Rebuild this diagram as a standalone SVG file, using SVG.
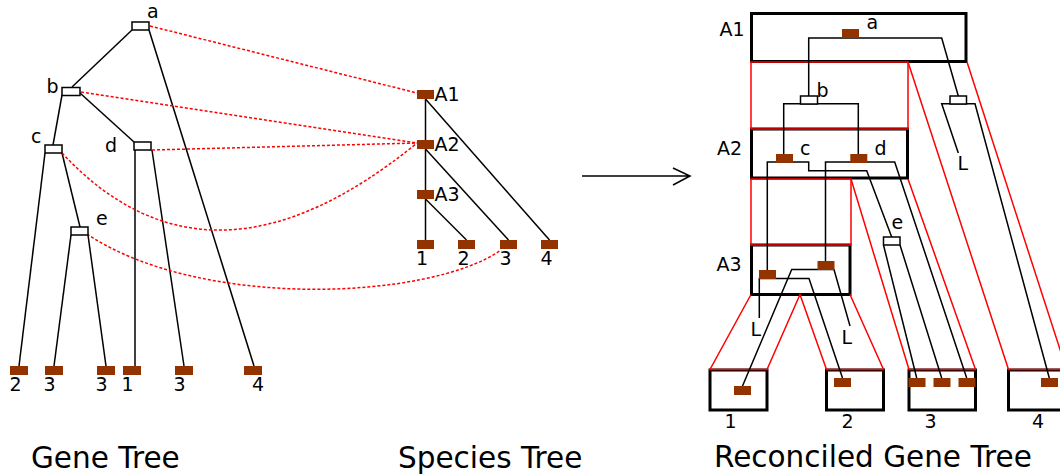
<svg xmlns="http://www.w3.org/2000/svg" width="1060" height="476" viewBox="0 0 1060 476">
  <style>
    .t { font-family: "DejaVu Sans", "Liberation Sans", sans-serif; font-size: 19px; fill: #000; }
    .title { font-size: 29.5px; }
    .ln { stroke: #000; stroke-width: 1.5; fill: none; }
    .map { stroke: #f00; stroke-width: 1.5; stroke-dasharray: 3 2; fill: none; }
    .dup { fill: #fff; stroke: #000; stroke-width: 1.5; }
    .sp { fill: #933300; }
    .box { fill: none; stroke: #000; stroke-width: 3; }
    .tube { fill: none; stroke: #f00; stroke-width: 1.5; }
  </style>

  <rect width="1060" height="476" fill="#fff"/>

  <!-- ===== Gene tree ===== -->
  <g id="gene-edges">
    <path class="ln" d="M132,30 L72,87"/>
    <path class="ln" d="M149,30 L254,366"/>
    <path class="ln" d="M62,95 L53,145"/>
    <path class="ln" d="M80,93 L134,142"/>
    <path class="ln" d="M45,153 L19,366"/>
    <path class="ln" d="M62,153 L80,227"/>
    <path class="ln" d="M71,235 L54,366"/>
    <path class="ln" d="M88,235 L106,366"/>
    <path class="ln" d="M135,150 L135,366"/>
    <path class="ln" d="M152,150 L184,366"/>
  </g>

  <!-- mapping from gene nodes onto species nodes -->
  <g id="mappings">
    <path class="map" d="M150,26 L417,93"/>
    <path class="map" d="M81,92 L417,143"/>
    <path class="map" d="M152,150 L417,143"/>
    <path class="map" d="M62,153 Q210,312 417,143"/>
    <path class="map" d="M87,234 C200,310 430,300 501,250"/>
  </g>

  <g id="gene-a"><rect class="dup" x="132" y="22" width="17" height="8"/><text class="t" x="147" y="18">a</text></g>
  <g id="gene-b"><rect class="dup" x="62" y="87.5" width="18" height="8"/><text class="t" x="46.5" y="93">b</text></g>
  <g id="gene-c"><rect class="dup" x="45" y="145" width="17" height="8"/><text class="t" x="31" y="143">c</text></g>
  <g id="gene-d"><rect class="dup" x="134" y="142" width="17" height="8"/><text class="t" x="105" y="152">d</text></g>
  <g id="gene-e"><rect class="dup" x="71" y="227" width="17" height="8"/><text class="t" x="96" y="225">e</text></g>

  <g id="gene-leaf-2a"><rect class="sp" x="10" y="366" width="18" height="9"/><text class="t" x="9.5" y="391">2</text></g>
  <g id="gene-leaf-3a"><rect class="sp" x="45" y="366" width="18" height="9"/><text class="t" x="43.5" y="391">3</text></g>
  <g id="gene-leaf-3b"><rect class="sp" x="97" y="366" width="18" height="9"/><text class="t" x="95.5" y="391">3</text></g>
  <g id="gene-leaf-1"><rect class="sp" x="123" y="366" width="18" height="9"/><text class="t" x="121.5" y="391">1</text></g>
  <g id="gene-leaf-3c"><rect class="sp" x="175" y="366" width="18" height="9"/><text class="t" x="173.5" y="391">3</text></g>
  <g id="gene-leaf-4"><rect class="sp" x="244" y="366" width="18" height="9"/><text class="t" x="252" y="391">4</text></g>

  <text class="t title" x="31" y="468">Gene Tree</text>

  <!-- ===== Species tree ===== -->
  <g id="species-edges">
    <path class="ln" d="M425.5,99 L425.5,240"/>
    <path class="ln" d="M425.5,99 L549.5,240"/>
    <path class="ln" d="M425.5,149 L508.5,240"/>
    <path class="ln" d="M425.5,199 L466.5,240"/>
  </g>
  <g id="sp-A1"><rect class="sp" x="417" y="90" width="17" height="9"/><text class="t" x="434.5" y="101">A1</text></g>
  <g id="sp-A2"><rect class="sp" x="417" y="140" width="17" height="9"/><text class="t" x="434.5" y="151">A2</text></g>
  <g id="sp-A3"><rect class="sp" x="417" y="190" width="17" height="9"/><text class="t" x="434.5" y="201">A3</text></g>
  <g id="sp-1"><rect class="sp" x="417" y="240" width="17" height="9"/><text class="t" x="416" y="265">1</text></g>
  <g id="sp-2"><rect class="sp" x="458" y="240" width="17" height="9"/><text class="t" x="457.5" y="265">2</text></g>
  <g id="sp-3"><rect class="sp" x="500" y="240" width="17" height="9"/><text class="t" x="499.5" y="265">3</text></g>
  <g id="sp-4"><rect class="sp" x="541" y="240" width="17" height="9"/><text class="t" x="540.5" y="265">4</text></g>

  <text class="t title" x="398" y="468">Species Tree</text>

  <!-- transformation arrow -->
  <g id="arrow">
    <path class="ln" d="M582,176 H690 M673,168 L690,176 L673,185"/>
  </g>

  <!-- ===== Reconciled gene tree ===== -->
  <g id="rec-boxes">
    <rect class="box" x="751.5" y="13.5" width="214.5" height="48"/>
    <rect class="box" x="751.5" y="129" width="156" height="49"/>
    <rect class="box" x="751.5" y="245" width="98.5" height="49.5"/>
    <rect class="box" x="710" y="370" width="57" height="40"/>
    <rect class="box" x="826.5" y="370" width="57" height="40"/>
    <rect class="box" x="909" y="370" width="66.5" height="40"/>
    <rect class="box" x="1008.5" y="370" width="70" height="40"/>
  </g>

  <!-- species branches drawn as tubes -->
  <g id="rec-tubes">
    <rect class="tube" x="751" y="62" width="157" height="67"/>
    <path class="tube" d="M908,62 L1008.5,369.5 L1080,369.5"/>
    <path class="tube" d="M967,62 L1066.5,369.5"/>
    <rect class="tube" x="751" y="179" width="100" height="66"/>
    <path class="tube" d="M851,179 L909,369.5 L975.5,369.5 L908,179"/>
    <path class="tube" d="M751,294.5 L710,369.5 L767,369.5 L800,294.5 L826.5,369.5 L883.5,369.5 L850,294.5"/>
  </g>

  <g id="rec-edges">
    <path class="ln" d="M808.7,96 V38 H941.7 L958.3,96"/>
    <path class="ln" d="M783.7,154 V103.7 H858.3 V154"/>
    <path class="ln" d="M767.3,270 V162 H808.7 V170.7 H866.7 L891.7,237"/>
    <path class="ln" d="M825.5,261 V162 H894.7 L966.7,378"/>
    <path class="ln" d="M958.3,153 L941.7,103.7 H975 L1049.3,378"/>
    <path class="ln" d="M883.5,245 L916.7,378 M900,245 L941.7,378"/>
    <path class="ln" d="M759.3,318 V278.5 H809 L842.5,378"/>
    <path class="ln" d="M742.5,386 L791.7,269.5 H834 L850,326"/>
  </g>

  <g id="rec-a"><rect class="sp" x="842" y="29" width="17" height="9"/><text class="t" x="866.5" y="29">a</text></g>
  <g id="rec-b"><rect class="dup" x="800.5" y="96" width="17" height="8"/><text class="t" x="816.5" y="97">b</text></g>
  <g id="rec-loss-a"><rect class="dup" x="950" y="96" width="16.5" height="8"/><text class="t" x="957.5" y="170">L</text></g>
  <g id="rec-c"><rect class="sp" x="776" y="154" width="17" height="9"/><text class="t" x="800" y="155">c</text></g>
  <g id="rec-d"><rect class="sp" x="850.3" y="154" width="17" height="9"/><text class="t" x="874.5" y="155">d</text></g>
  <g id="rec-e"><rect class="dup" x="883.5" y="237" width="16.5" height="8"/><text class="t" x="891.5" y="229">e</text></g>
  <g id="rec-c-A3"><rect class="sp" x="759" y="270" width="17" height="9"/><text class="t" x="750.5" y="336">L</text></g>
  <g id="rec-d-A3"><rect class="sp" x="817.5" y="261" width="17" height="9"/><text class="t" x="841.5" y="344">L</text></g>

  <g id="rec-leaf-1"><rect class="sp" x="734" y="386" width="17" height="9"/></g>
  <g id="rec-leaf-2"><rect class="sp" x="834" y="378" width="17" height="9"/></g>
  <g id="rec-leaf-3a"><rect class="sp" x="908.5" y="378" width="17" height="9"/></g>
  <g id="rec-leaf-3b"><rect class="sp" x="933.5" y="378" width="17" height="9"/></g>
  <g id="rec-leaf-3c"><rect class="sp" x="958.5" y="378" width="17" height="9"/></g>
  <g id="rec-leaf-4"><rect class="sp" x="1041" y="378" width="17" height="9"/></g>

  <g id="rec-labels">
    <text class="t" x="719.5" y="36">A1</text>
    <text class="t" x="717" y="155">A2</text>
    <text class="t" x="716.5" y="271">A3</text>
    <text class="t" x="724.5" y="428">1</text>
    <text class="t" x="841.5" y="428">2</text>
    <text class="t" x="924.5" y="428">3</text>
    <text class="t" x="1032" y="428">4</text>
  </g>

  <text class="t title" x="714" y="467">Reconciled Gene Tree</text>
</svg>
